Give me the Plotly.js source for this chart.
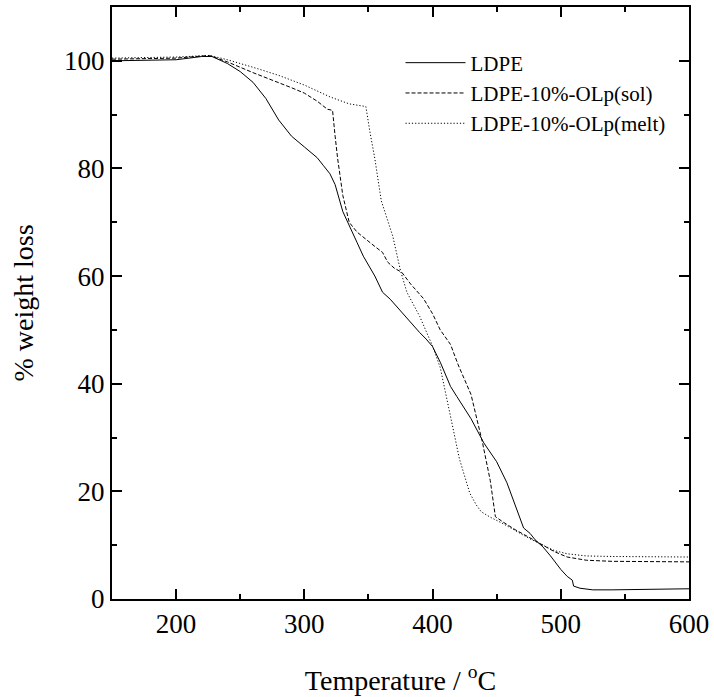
<!DOCTYPE html>
<html><head><meta charset="utf-8">
<script src="https://cdn.plot.ly/plotly-3.0.1.min.js"></script>
<style>body{margin:0;background:#fff}</style>
</head><body>
<div id="chart" style="width:714px;height:697px"></div>
<script>
const ldpeT = [150,200,220,228,240,250,260,270,280,290,300,310,315,320,324,330,341,346,355,361,367,375,383,390,395,400,406,414,419,430,440,450,458,465,471,476,480,486,492,500,505,509,510,515,525,540,560,580,600];
const ldpeW = [100,100.2,100.8,100.8,99.5,98,96,93,89,86,84,82,80.5,79,77,72,66.3,63.7,60,57,55.7,53.5,51.5,49.5,48.3,46.9,44,39.5,37.6,33.5,29,25.5,21.6,17,13.2,12.2,11,9.7,8,5.5,4.2,3.5,2.4,2,1.7,1.7,1.8,1.9,1.9];
const solT = [150,200,226,240,260,280,290,300,310,318,322,324,326,330,335,341,346,355,361,365,370,376,383,393,400,406,414,420,430,439,445,449,455,465,475,486,495,505,520,540,570,600];
const solW = [100.3,100.5,101,99.8,97.8,96,95,94,92.5,91,90.8,86,81.8,75,70,68.2,67.2,65.5,64.4,62.6,61.5,60.7,58.5,55.8,53,50,47.3,43.5,38,29,22,15.3,14.3,12.8,11.5,10,8.8,7.8,7.2,7,6.9,6.9];
const meltT = [150,200,226,240,260,280,300,320,335,348,351,355,360,369,375,380,390,400,406,414,421,429,434,438,445,455,465,475,486,495,505,520,540,570,600];
const meltW = [100.5,100.7,101,100.2,98.8,97.3,95.5,93.3,92,91.5,87,81.8,74,67.4,61,57,52.5,47,43,34,26,19.7,17.5,16.2,15.2,14,12.6,11.3,10,9,8.4,8,7.9,7.8,7.8];
const names = ['LDPE','LDPE-10%-OLp(sol)','LDPE-10%-OLp(melt)'];
const xTicks = [200,300,400,500,600];
const xMinor = [250,350,450,550];
const yTicks = [0,20,40,60,80,100];
const yMinor = [10,30,50,70,90,110];

const font = {family:'Liberation Serif, Times New Roman, serif', color:'#000'};
const traces = [
  {x:ldpeT, y:ldpeW, name:names[0], mode:'lines', line:{color:'#000', width:1, dash:'solid'}},
  {x:solT, y:solW, name:names[1], mode:'lines', line:{color:'#000', width:1, dash:'4px,2px'}},
  {x:meltT, y:meltW, name:names[2], mode:'lines', line:{color:'#000', width:1, dash:'1.2px,2px'}}
];
const axisCommon = {showline:true, linecolor:'#000', linewidth:2, mirror:'allticks', ticks:'inside', ticklen:10, tickwidth:2, tickcolor:'#000', showgrid:false, zeroline:false, tickfont:Object.assign({size:27}, font)};
const layout = {
  width:714, height:697,
  margin:{l:112, r:25, t:7, b:98},
  paper_bgcolor:'#fff', plot_bgcolor:'#fff',
  font:font,
  showlegend:true,
  legend:{x:0.5, y:0.94, xanchor:'left', yanchor:'top', bgcolor:'rgba(0,0,0,0)', font:Object.assign({size:21}, font), tracegroupgap:0, itemwidth:60},
  xaxis:Object.assign({}, axisCommon, {range:[150,600], tickvals:xTicks, minor:{tickvals:xMinor, ticks:'inside', ticklen:5, tickwidth:2, tickcolor:'#000'},
    title:{text:'Temperature / <sup>o</sup>C', font:Object.assign({size:28}, font), standoff:32}}),
  yaxis:Object.assign({}, axisCommon, {range:[0,110], tickvals:yTicks, minor:{tickvals:yMinor, ticks:'inside', ticklen:5, tickwidth:2, tickcolor:'#000'},
    title:{text:'% weight loss', font:Object.assign({size:28}, font), standoff:22}})
};
Plotly.newPlot('chart', traces, layout, {displayModeBar:false, staticPlot:true});
</script>
</body></html>
